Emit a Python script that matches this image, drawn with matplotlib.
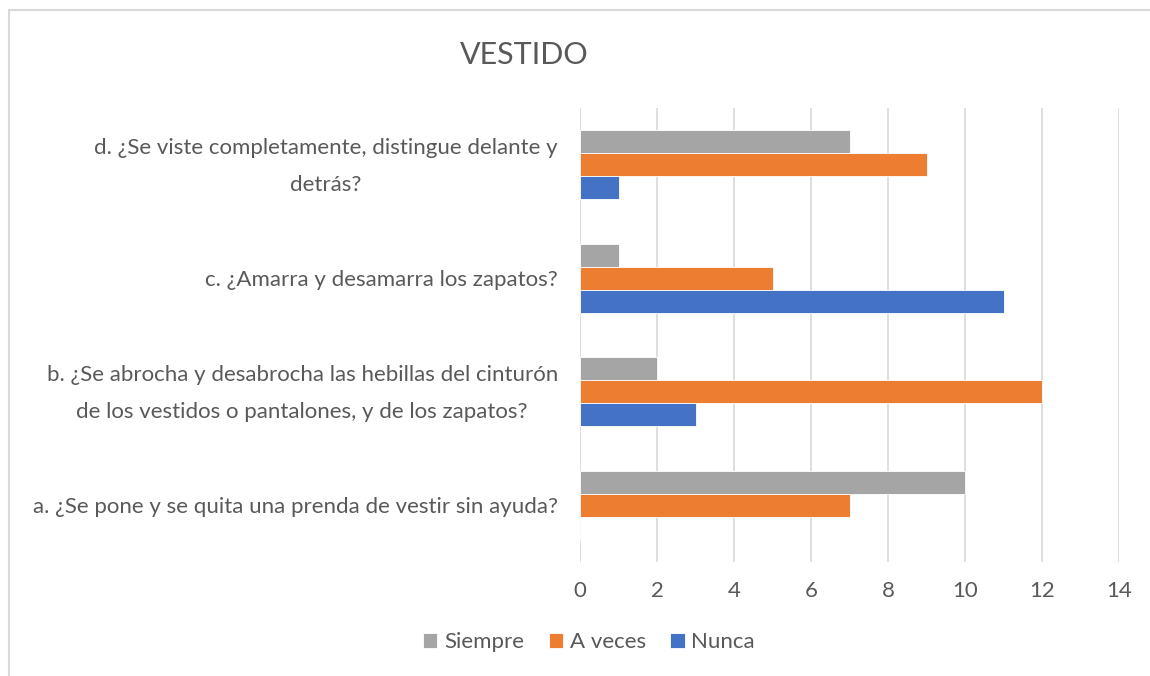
import numpy as np
import matplotlib
matplotlib.use('Agg')
import matplotlib.pyplot as plt
import matplotlib.transforms as mtransforms
from matplotlib.patches import Rectangle

categories = [
    "a. ¿Se pone y se quita una prenda de vestir sin ayuda?",
    "b. ¿Se abrocha y desabrocha las hebillas del cinturón\nde los vestidos o pantalones, y de los zapatos?",
    "c. ¿Amarra y desamarra los zapatos?",
    "d. ¿Se viste completamente, distingue delante y\ndetrás?",
]
siempre = [10, 2, 1, 7]
a_veces = [7, 12, 5, 9]
nunca = [0, 3, 11, 1]
series_names = ["Siempre", "A veces", "Nunca"]
xticks = [0, 2, 4, 6, 8, 10, 12, 14]

plt.rcParams['font.family'] = ['Lato', 'DejaVu Sans']
text_color = '#595959'
grid_color = '#d9d9d9'

fig = plt.figure(figsize=(11.5, 6.76), dpi=100)
ax = fig.add_axes([580 / 1150, 1 - 562 / 676, 539 / 1150, 454 / 676])

y = np.arange(len(categories))
h = 0.203
ax.barh(y + h, siempre, height=h, color='#A5A5A5', edgecolor='white', linewidth=0.6, label=series_names[0], zorder=3)
ax.barh(y, a_veces, height=h, color='#ED7D31', edgecolor='white', linewidth=0.6, label=series_names[1], zorder=3)
ax.barh(y - h, nunca, height=h, color='#4472C4', edgecolor='white', linewidth=0.6, label=series_names[2], zorder=3)

ax.set_xlim(0, 14)
ax.set_ylim(-0.5, len(categories) - 0.5)
ax.tick_params(axis='both', length=0, labelsize=16, colors=text_color)
ax.tick_params(axis='x', pad=14)
ax.tick_params(axis='y', pad=16)
ax.set_xticks(xticks)
ax.set_xticklabels([str(v) for v in xticks])
ax.set_yticks(y)
ax.set_yticklabels(categories)
# multi-line labels: wider spacing and nudge up to centre on the group
shift = mtransforms.ScaledTranslation(0, 9 / 100, fig.dpi_scale_trans)
for t in ax.get_yticklabels():
    t.set_multialignment('center')
    t.set_linespacing(2.1)
    if '\n' in t.get_text():
        t.set_transform(t.get_transform() + shift)
ax.xaxis.grid(True, color=grid_color, linewidth=1.2, zorder=0)
for s in ax.spines.values():
    s.set_visible(False)

fig.text(524 / 1150, 1 - 55 / 676, "VESTIDO", ha='center', va='center', fontsize=22, color=text_color)

leg = fig.legend(loc='center', bbox_to_anchor=(589 / 1150, 1 - 642 / 676), ncol=3, frameon=False,
                 fontsize=16, handlelength=0.65, handleheight=0.65, handletextpad=0.3, columnspacing=1.1)
for t in leg.get_texts():
    t.set_color(text_color)

fig.patches.append(Rectangle((9 / 1150, -0.1), 1.2, 1 - 10 / 676 + 0.1, transform=fig.transFigure,
                             fill=False, edgecolor=grid_color, linewidth=1.5))

plt.savefig('out.png', dpi=100)
